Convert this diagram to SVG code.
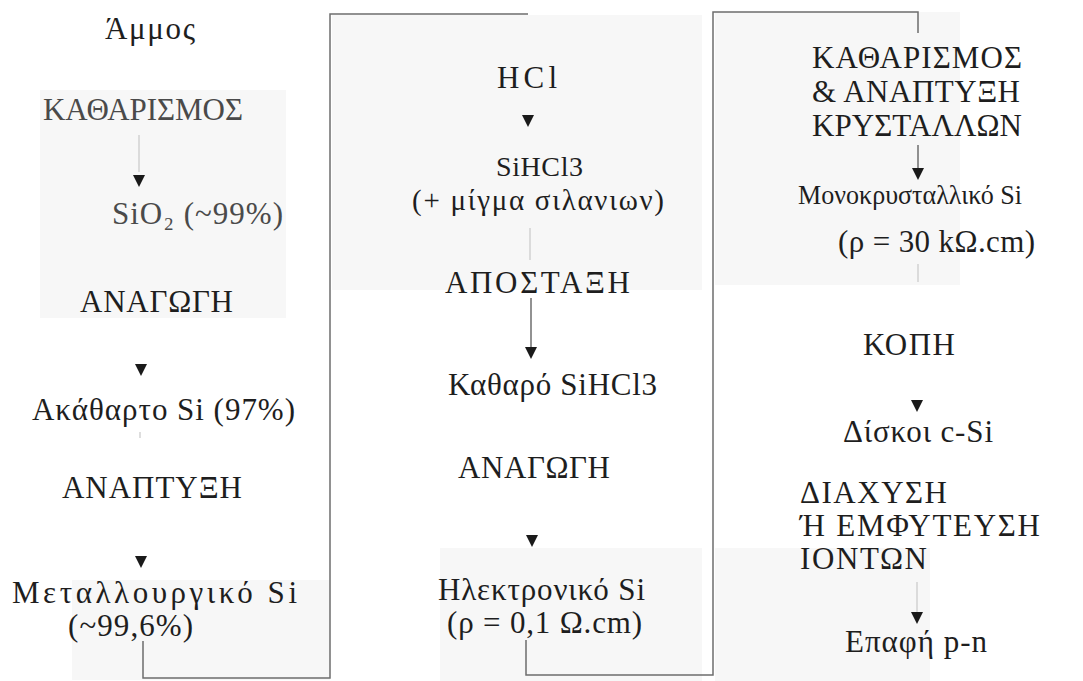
<svg xmlns="http://www.w3.org/2000/svg" xmlns:xlink="http://www.w3.org/1999/xlink" width="1083" height="681" viewBox="0 0 1083 681">
<style>
text{font-family:"Liberation Serif","DejaVu Serif",serif;font-size:31px;fill:#1e1e1e}
.lt{fill:#4a4a4a}
.sm{font-size:28px}
.md{font-size:29px}
.cn{fill:none;stroke:#6e6e6e;stroke-width:1.5}
.fn{fill:none;stroke:#c8c8c8;stroke-width:1.2}
.ar{fill:#1a1a1a}
.bg{fill:#f7f7f7}
</style>
<defs>
<path id="tri" d="M-6,0 L6,0 L0,12 Z"/>
</defs>
<rect width="1083" height="681" fill="#ffffff"/>
<g id="background">
<rect class="bg" x="40" y="90" width="246" height="228"/>
<rect class="bg" x="332" y="15" width="370" height="275"/>
<rect class="bg" x="715" y="12" width="245" height="273"/>
<rect class="bg" x="440" y="548" width="262" height="133"/>
<rect class="bg" x="715" y="548" width="215" height="133"/>
<rect class="bg" x="72" y="580" width="258" height="100"/>
</g>
<g id="connectors">
<path class="cn" d="M143,641 V678 H330 V14 H528"/>
<path class="cn" d="M526,640 V675 H713 V12 H918 V33"/>
<path class="fn" d="M139,135 V172"/>
<path class="fn" d="M530,228 V260"/>
<path class="cn" d="M531,298 V347"/>
<path class="cn" d="M918,145 V168"/>
<path class="fn" d="M918,264 V282"/>
<path class="fn" d="M917,582 V612"/>
<path class="fn" d="M140,432 V438"/>
<use href="#tri" class="ar" x="139" y="175"/>
<use href="#tri" class="ar" x="141" y="364"/>
<use href="#tri" class="ar" x="141" y="556"/>
<use href="#tri" class="ar" x="528" y="115"/>
<use href="#tri" class="ar" x="531" y="347"/>
<use href="#tri" class="ar" x="532" y="535"/>
<use href="#tri" class="ar" x="918" y="168"/>
<use href="#tri" class="ar" x="917" y="400"/>
<use href="#tri" class="ar" x="917" y="612"/>
</g>
<g id="n-ammos"><text x="105" y="39" textLength="90" lengthAdjust="spacing">Άμμος</text></g>
<g id="n-katharismos1"><text class="lt" x="43" y="120" textLength="200" lengthAdjust="spacing">ΚΑΘΑΡΙΣΜΟΣ</text></g>
<g id="n-sio2"><text class="lt" x="112" y="224" textLength="171" lengthAdjust="spacing">SiO₂ (~99%)</text></g>
<g id="n-anagogi1"><text x="80" y="312" textLength="153" lengthAdjust="spacing">ΑΝΑΓΩΓΗ</text></g>
<g id="n-akatharto"><text x="32" y="420" textLength="263" lengthAdjust="spacing">Ακάθαρτο Si (97%)</text></g>
<g id="n-anaptyxi1"><text x="62" y="498" textLength="180" lengthAdjust="spacing">ΑΝΑΠΤΥΞΗ</text></g>
<g id="n-metallourgiko">
<text x="12" y="603" textLength="285" lengthAdjust="spacing">Μεταλλουργικό Si</text>
<text x="68" y="636" textLength="125" lengthAdjust="spacing">(~99,6%)</text>
</g>
<g id="n-hcl"><text x="497" y="88" textLength="60" lengthAdjust="spacing">HCl</text></g>
<g id="n-sihcl3">
<text class="sm" x="496" y="176" textLength="87" lengthAdjust="spacing">SiHCl3</text>
<text class="md" x="412" y="210" textLength="252" lengthAdjust="spacing">(+ μίγμα σιλανιων)</text>
</g>
<g id="n-apostaxi"><text x="445" y="293" textLength="185" lengthAdjust="spacing">ΑΠΟΣΤΑΞΗ</text></g>
<g id="n-katharo"><text x="448" y="395" textLength="209" lengthAdjust="spacing">Καθαρό SiHCl3</text></g>
<g id="n-anagogi2"><text x="458" y="478" textLength="152" lengthAdjust="spacing">ΑΝΑΓΩΓΗ</text></g>
<g id="n-ilektroniko">
<text x="438" y="600" textLength="207" lengthAdjust="spacing">Ηλεκτρονικό Si</text>
<text x="447" y="633" textLength="195" lengthAdjust="spacing">(ρ = 0,1 Ω.cm)</text>
</g>
<g id="n-katharismos2">
<text x="812" y="68" textLength="210" lengthAdjust="spacing">ΚΑΘΑΡΙΣΜΟΣ</text>
<text x="812" y="102" textLength="208" lengthAdjust="spacing">&amp; ΑΝΑΠΤΥΞΗ</text>
<text x="812" y="136" textLength="210" lengthAdjust="spacing">ΚΡΥΣΤΑΛΛΩΝ</text>
</g>
<g id="n-monokrystalliko">
<text class="sm" x="798" y="204" textLength="224" lengthAdjust="spacingAndGlyphs">Μονοκρυσταλλικό Si</text>
<text x="838" y="252" textLength="197" lengthAdjust="spacing">(ρ = 30 kΩ.cm)</text>
</g>
<g id="n-kopi"><text x="863" y="355" textLength="92" lengthAdjust="spacing">ΚΟΠΗ</text></g>
<g id="n-diskoi"><text x="843" y="442" textLength="150" lengthAdjust="spacing">Δίσκοι c-Si</text></g>
<g id="n-diaxysi">
<text x="800" y="503" textLength="147" lengthAdjust="spacing">ΔΙΑΧΥΣΗ</text>
<text x="800" y="536" textLength="240" lengthAdjust="spacing">Ή ΕΜΦΥΤΕΥΣΗ</text>
<text x="800" y="569" textLength="127" lengthAdjust="spacing">ΙΟΝΤΩΝ</text>
</g>
<g id="n-epafi"><text x="845" y="652" textLength="142" lengthAdjust="spacing">Επαφή p-n</text></g>
</svg>
